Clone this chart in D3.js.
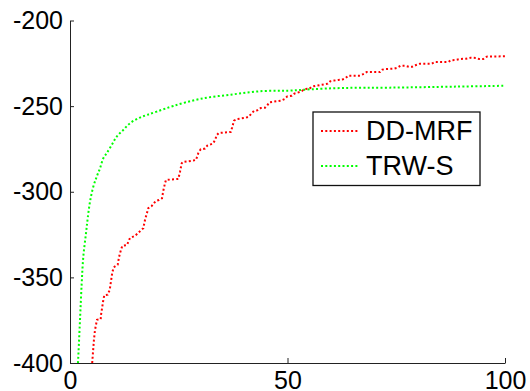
<!DOCTYPE html>
<html>
<head>
<meta charset="utf-8">
<script src="https://cdn.jsdelivr.net/npm/d3@7"></script>
<style>
    body { margin: 0; background: #fff; }
    .axis path, .axis line { stroke: #222; stroke-width: 1; }
    .axis text { font-family: "Liberation Sans", Arial, sans-serif; font-size: 25px; fill: #000; }
    .legend-text { font-family: "Liberation Sans", Arial, sans-serif; font-size: 27px; fill: #000; }
    .line { fill: none; stroke-width: 2; stroke-dasharray: 2,2.3; }
</style>
</head>
<body>
<div id="chart"></div>
<script>

// values
var seriesNames = ['DD-MRF', 'TRW-S'];
var seriesColors = ['#ff0000', '#00ff00'];

var ddX = [5.1, 5.5, 5.75, 6.2, 7.06, 7.13, 7.66, 7.89, 8.67, 9.13, 9.43, 9.72, 10.05, 10.97,
    11.26, 11.66, 12.02, 13.1, 13.79, 14.94, 15.63, 16.85, 17.24, 18.0, 18.78, 19.7, 20.46,
    21.15, 21.45, 21.84, 22.07, 24.9, 25.29, 25.68, 25.91, 28.34, 28.97, 29.49, 30.05, 31.03,
    31.56, 32.94, 33.4, 33.72, 34.18, 36.94, 37.24, 37.7, 38.46, 40.23, 41.08, 41.61, 42.3,
    43.06, 43.84, 44.83, 45.36, 45.82, 46.74, 48.51, 49.36, 49.95, 50.97, 51.56, 52.87, 53.4,
    54.02, 55.01, 55.63, 56.55, 57.47, 58.62, 59.24, 59.84, 60.69, 61.68, 62.53, 63.38, 63.98,
    66.67, 67.59, 68.21, 71.26, 71.79, 72.64, 74.48, 75.24, 76.02, 77.01, 77.93, 78.69, 79.54,
    80.46, 83.15, 83.91, 86.97, 87.59, 88.51, 89.66, 91.03, 92.11, 93.33, 94.02, 95.01, 95.79,
    100];
var ddY = [-400, -386.5, -380.7, -374.8, -374.4, -371.9, -363.2, -360.4, -360.1, -357.3, -352.1,
    -347.2, -344.1, -342.6, -338.2, -334.4, -331.6, -331.1, -327, -325.8, -324.1, -321.3, -316.5,
    -309.6, -308.3, -305.4, -304.8, -303.8, -299.4, -295, -293.1, -292.5, -288.3, -283.4, -282.6,
    -281.8, -281.4, -277.5, -275.2, -274.8, -273.1, -271.7, -269.4, -267, -265.7, -265.1, -262.8,
    -258.5, -257.5, -256.9, -256.2, -254.6, -252.8, -252.5, -251.1, -250.9, -249.5, -247.8,
    -247.4, -246.8, -245.8, -244.3, -243.9, -242.7, -241.7, -241, -240, -239.8, -238.6, -238.1,
    -237.7, -237.2, -236.9, -235.5, -235.1, -234.7, -234.6, -233.6, -232.2, -232.2, -231.1,
    -230.1, -230.1, -228.7, -228.3, -228.1, -227.6, -226.4, -226.4, -227, -227, -226, -225.2,
    -225.2, -224.2, -224.2, -223.2, -223.1, -222.5, -222.3, -221.7, -221.9, -222.5, -222.5,
    -221.1, -220.9];

var trwX = [1.84, 2.3, 2.69, 3.06, 3.68, 4.07, 4.6, 5.36, 6.14, 6.9, 7.66, 8.44, 9.59, 10.74,
    12.25, 13.79, 15.7, 17.63, 19.93, 23.75, 29.89, 37.54, 44.44, 50.18, 55.17, 62.83,
    73.56, 88.9, 100];
var trwY = [-400, -374.8, -353.4, -337.9, -324.2, -315.5, -305.8, -297, -291.2, -286.3,
    -280.4, -277.5, -272.7, -267.8, -263.9, -260, -257.1, -255.2, -253.2, -249.9, -245.8,
    -243.1, -241.2, -241, -240.2, -239.4, -239.2, -238.6, -238.1];

var xTicks = [0, 50, 100];
var yTicks = [-400, -350, -300, -250, -200];

var margin = { top: 20.5, right: 25, bottom: 28, left: 70 };
var width = 530, height = 391;
var plotWidth = width - margin.left - margin.right;
var plotHeight = height - margin.top - margin.bottom;

var svg = d3.select('#chart').append('svg')
    .attr('width', width)
    .attr('height', height);

var plot = svg.append('g')
    .attr('transform', 'translate(' + margin.left + ',' + margin.top + ')');

var xScale = d3.scaleLinear().domain([0, 100]).range([0, plotWidth]);
var yScale = d3.scaleLinear().domain([-400, -200]).range([plotHeight, 0]);

function zip(xs, ys) {
    return xs.map(function(x, i) { return { x: x, y: ys[i] }; });
}

var straight = d3.line()
    .x(function(d) { return xScale(d.x); })
    .y(function(d) { return yScale(d.y); });

var smooth = d3.line()
    .curve(d3.curveCatmullRom.alpha(0.5))
    .x(function(d) { return xScale(d.x); })
    .y(function(d) { return yScale(d.y); });

plot.append('path')
    .attr('class', 'line')
    .attr('stroke', seriesColors[1])
    .attr('d', smooth(zip(trwX, trwY)));

plot.append('path')
    .attr('class', 'line')
    .attr('stroke', seriesColors[0])
    .attr('d', straight(zip(ddX, ddY)));

// plain hyphen like the original, not the unicode minus
var plain = function(d) { return String(d); };

// axes, ticks point inwards
var xAxis = d3.axisBottom(xScale).tickValues(xTicks).tickFormat(plain)
    .tickSizeInner(-5).tickSizeOuter(0);
var yAxis = d3.axisLeft(yScale).tickValues(yTicks).tickFormat(plain)
    .tickSizeInner(-4).tickSizeOuter(0).tickPadding(7);

var xGroup = plot.append('g').attr('class', 'axis')
    .attr('transform', 'translate(0,' + plotHeight + ')')
    .call(xAxis);
xGroup.selectAll('text').attr('dy', null).attr('y', 26);

plot.append('g').attr('class', 'axis').call(yAxis);

// legend
var legend = svg.append('g').attr('transform', 'translate(313,112)');

legend.append('rect')
    .attr('width', 167)
    .attr('height', 73.5)
    .attr('fill', '#fff')
    .attr('stroke', '#111')
    .attr('stroke-width', 1.3);

seriesNames.forEach(function(name, i) {
    legend.append('path')
        .attr('class', 'line')
        .attr('stroke', seriesColors[i])
        .attr('d', 'M8 ' + (19 + i * 35) + ' L46 ' + (19 + i * 35));
    legend.append('text')
        .attr('class', 'legend-text')
        .attr('x', 53)
        .attr('y', 28 + i * 35)
        .text(name);
});

</script>
</body>
</html>
